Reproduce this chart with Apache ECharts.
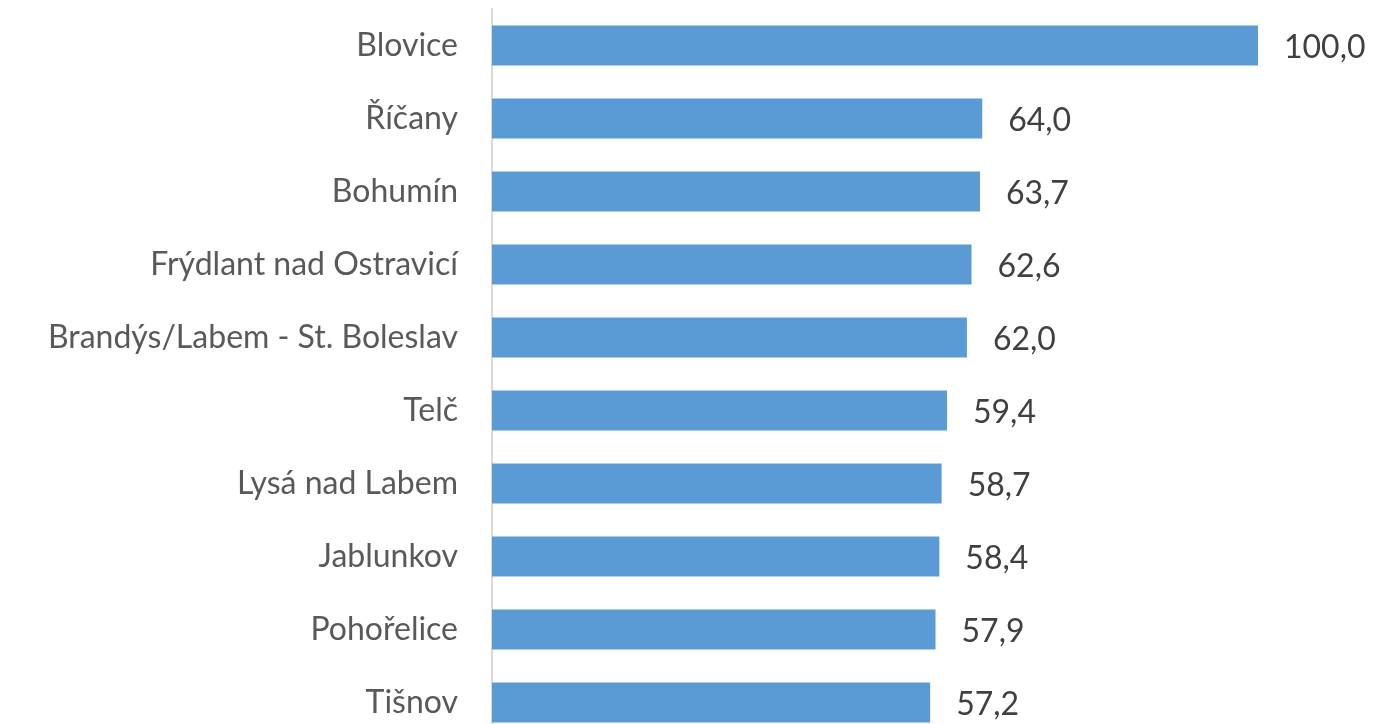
<!DOCTYPE html>
<html>
<head>
<meta charset="utf-8">
<script src="https://cdn.jsdelivr.net/npm/echarts@6/dist/echarts.min.js"></script>
<style>
  html, body { margin: 0; padding: 0; background: #ffffff; }
  #chart { width: 1373px; height: 724px; }
</style>
</head>
<body>
<div id="chart"></div>
<script>
const categories = [
  'Blovice',
  'Říčany',
  'Bohumín',
  'Frýdlant nad Ostravicí',
  'Brandýs/Labem - St. Boleslav',
  'Telč',
  'Lysá nad Labem',
  'Jablunkov',
  'Pohořelice',
  'Tišnov',
];
const values = [100.0, 64.0, 63.7, 62.6, 62.0, 59.4, 58.7, 58.4, 57.9, 57.2];

const FONT = 'Lato, "Open Sans", sans-serif';

const chart = echarts.init(document.getElementById('chart'), null, { renderer: 'canvas' });

chart.setOption({
  animation: false,
  backgroundColor: '#ffffff',
  grid: {
    left: 492,
    right: 115,
    top: 9,
    height: 730,
    containLabel: false,
    outerBoundsMode: 'none',
  },
  xAxis: {
    type: 'value',
    min: 0,
    max: 100,
    show: false,
  },
  yAxis: {
    type: 'category',
    inverse: true,
    data: categories,
    axisLine: {
      show: true,
      lineStyle: { color: '#d9d9d9', width: 2 },
    },
    axisTick: { show: false },
    axisLabel: {
      color: '#595959',
      fontFamily: FONT,
      fontSize: 32,
      margin: 34,
    },
  },
  series: [
    {
      type: 'bar',
      data: values,
      barCategoryGap: '45%',
      itemStyle: { color: '#5b9bd5' },
      label: {
        show: true,
        position: 'right',
        distance: 26,
        offset: [0, 2],
        color: '#404040',
        fontFamily: FONT,
        fontSize: 32,
        formatter: (p) => p.value.toFixed(1).replace('.', ','),
      },
    },
  ],
});
</script>
</body>
</html>
